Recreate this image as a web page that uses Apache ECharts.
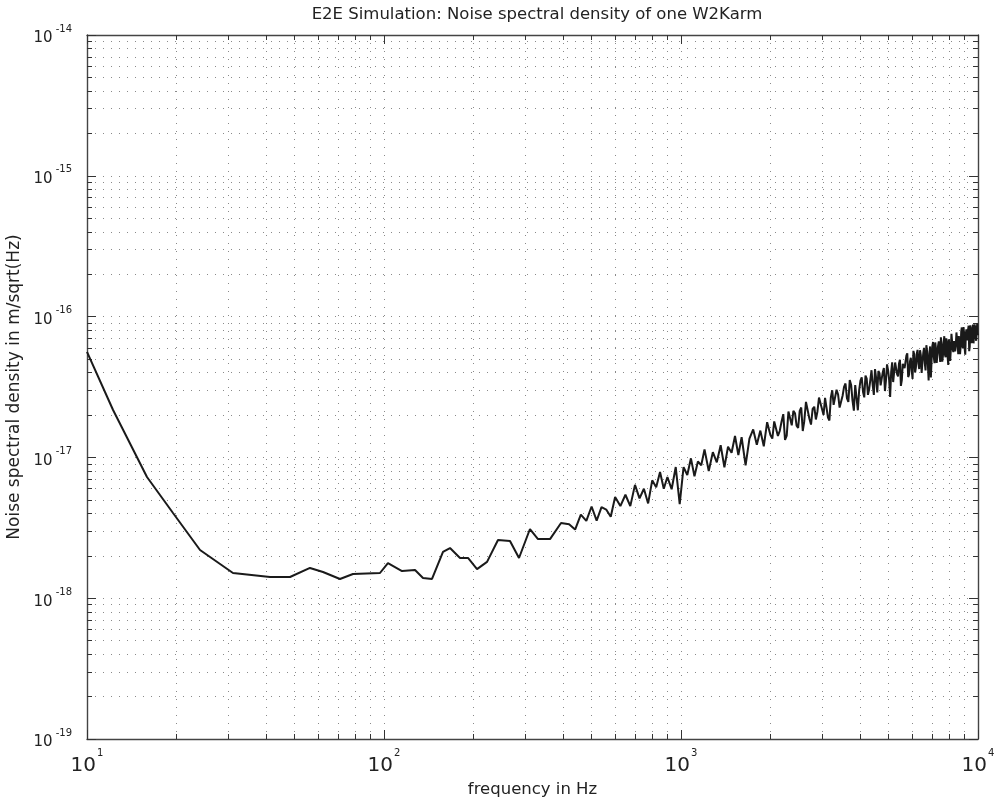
<!DOCTYPE html>
<html>
<head>
<meta charset="utf-8">
<script src="https://cdn.jsdelivr.net/npm/echarts@6/dist/echarts.min.js"></script>
<style>
html,body{margin:0;padding:0;background:#fff;}
#chart{width:995px;height:797px;}
</style>
</head>
<body>
<div id="chart"></div>
<script>
// ---- data ----
const lowFreq = [10.0, 12.24, 15.92, 19.48, 24.02, 31.01, 41.33, 48.26, 56.34, 62.32, 71.09, 78.63, 96.94, 103.1, 115.0, 127.2, 135.3, 145.1, 158.0, 166.8, 180.3, 191.8, 205.7, 222.3, 242.0, 265.6, 284.8, 310.1, 330.0, 362.2, 394.5];
const lowAsd  = [5.61e-17, 2.17e-17, 7.26e-18, 4.03e-18, 2.20e-18, 1.51e-18, 1.414e-18, 1.414e-18, 1.64e-18, 1.535e-18, 1.369e-18, 1.486e-18, 1.51e-18, 1.778e-18, 1.56e-18, 1.586e-18, 1.392e-18, 1.369e-18, 2.13e-18, 2.27e-18, 1.93e-18, 1.93e-18, 1.61e-18, 1.81e-18, 2.59e-18, 2.55e-18, 1.93e-18, 3.10e-18, 2.63e-18, 2.63e-18, 3.42e-18];

const highFreq = [420, 440, 460, 480, 500, 520, 540, 560, 580, 600, 625, 650, 675, 700, 725, 750, 775, 800, 825, 850, 875, 900, 930, 960, 990,
  1020, 1050, 1080, 1110, 1140, 1170, 1200, 1240, 1280, 1320, 1360, 1400, 1440, 1480, 1520, 1560, 1600, 1650, 1700, 1750, 1800, 1850, 1900, 1950, 2000,
  2060, 2120, 2180, 2240, 2300, 2360, 2420, 2480, 2540, 2600, 2670, 2740, 2810, 2880, 2950, 3020, 3090, 3160, 3230, 3300,
  3380, 3460, 3540, 3620, 3700, 3780, 3860, 3940, 4020, 4100, 4180, 4260, 4340, 4420, 4500, 4580, 4660, 4740, 4820, 4900,
  4980, 5060, 5140, 5220, 5300, 5380, 5460, 5540, 5620, 5700, 5780, 5860, 5940, 6020, 6100, 6180, 6260, 6340, 6420, 6500,
  6580, 6660, 6740, 6820, 6900, 6980, 7060, 7140, 7220, 7300, 7380, 7460, 7540, 7620, 7700, 7780, 7860, 7940, 8020, 8100,
  8180, 8260, 8340, 8420, 8500, 8580, 8660, 8740, 8820, 8900, 8980, 9060, 9140, 9220, 9300, 9380, 9460, 9540, 9620, 9700,
  9780, 9860, 9940, 10000];
const highAsd = [3.35e-18, 3.07e-18, 3.92e-18, 3.54e-18, 4.48e-18, 3.56e-18, 4.43e-18, 4.26e-18, 3.79e-18, 5.24e-18, 4.51e-18, 5.43e-18, 4.51e-18, 6.38e-18, 5.12e-18, 5.99e-18, 4.71e-18, 6.87e-18, 6.14e-18, 7.88e-18, 5.99e-18, 7.25e-18, 5.94e-18, 8.54e-18, 4.66e-18,
  8.53e-18, 7.50e-18, 9.85e-18, 7.34e-18, 9.35e-18, 8.80e-18, 1.14e-17, 8.01e-18, 1.09e-17, 9.23e-18, 1.22e-17, 8.51e-18, 1.19e-17, 1.08e-17, 1.42e-17, 1.04e-17, 1.39e-17, 8.78e-18, 1.36e-17, 1.58e-17, 1.23e-17, 1.55e-17, 1.20e-17, 1.78e-17, 1.44e-17,
  1.80e-17, 1.42e-17, 1.79e-17, 1.33e-17, 2.12e-17, 1.69e-17, 2.06e-17, 1.62e-17, 2.26e-17, 1.80e-17, 2.52e-17, 1.71e-17, 2.29e-17, 2.12e-17, 2.67e-17, 2.00e-17, 2.65e-17, 1.83e-17, 3.00e-17, 2.33e-17,
  2.80e-17, 2.24e-17, 3.17e-17, 2.64e-17, 3.54e-17, 2.53e-17, 3.26e-17, 2.16e-17, 3.51e-17, 2.93e-17, 3.81e-17, 2.78e-17, 3.56e-17, 3.26e-17, 4.24e-17, 2.89e-17, 3.97e-17, 3.24e-17, 4.32e-17, 3.54e-17,
  4.16e-17, 2.69e-17, 4.73e-17, 3.53e-17, 4.59e-17, 3.76e-17, 4.94e-17, 3.54e-17, 4.57e-17, 4.25e-17, 5.49e-17, 3.87e-17, 5.10e-17, 3.61e-17, 5.38e-17, 4.37e-17, 5.80e-17, 4.24e-17, 5.32e-17, 4.74e-17,
  6.00e-17, 4.15e-17, 5.69e-17, 3.52e-17, 6.14e-17, 4.99e-17, 6.60e-17, 4.67e-17, 5.93e-17, 5.38e-17, 6.67e-17, 4.76e-17, 6.47e-17, 5.27e-17, 7.26e-17, 5.14e-17, 6.57e-17, 4.53e-17, 7.07e-17, 5.85e-17,
  7.52e-17, 5.59e-17, 6.78e-17, 6.27e-17, 7.62e-17, 5.41e-17, 7.37e-17, 6.11e-17, 8.38e-17, 5.95e-17, 7.44e-17, 5.37e-17, 8.13e-17, 6.73e-17, 8.62e-17, 6.13e-17, 7.91e-17, 6.74e-17, 8.77e-17, 6.27e-17,
  8.40e-17, 6.74e-17, 8.91e-17, 7.37e-17];

// extra samples that make the dense noise band above 2 kHz
const bandFreq = [2030, 2090, 2150, 2210, 2270, 2330, 2390, 2450, 2510, 2570, 2635, 2705, 2775, 2845, 2915, 2985, 3055, 3125, 3195, 3265,
  3340, 3420, 3500, 3580, 3660, 3740, 3820, 3900, 3980, 4060, 4140, 4220, 4300, 4380, 4460, 4540, 4620, 4700, 4780, 4860,
  4940, 5020, 5100, 5180, 5260, 5340, 5420, 5500, 5580, 5660, 5740, 5820, 5900, 5980, 6060, 6140, 6220, 6300, 6380, 6460,
  6540, 6620, 6700, 6780, 6860, 6940, 7020, 7100, 7180, 7260, 7340, 7420, 7500, 7580, 7660, 7740, 7820, 7900, 7980, 8060,
  8140, 8220, 8300, 8380, 8460, 8540, 8620, 8700, 8780, 8860, 8940, 9020, 9100, 9180, 9260, 9340, 9420, 9500, 9580, 9660,
  9740, 9820, 9900, 9970];
const bandAsd = [1.36e-17, 1.84e-17, 1.54e-17, 2.03e-17, 1.43e-17, 1.90e-17, 2.14e-17, 1.68e-17, 2.14e-17, 1.54e-17, 2.48e-17, 1.89e-17, 2.21e-17, 1.86e-17, 2.66e-17, 2.20e-17, 2.65e-17, 1.92e-17, 2.67e-17, 2.36e-17,
  3.02e-17, 2.26e-17, 2.74e-17, 3.35e-17, 2.48e-17, 3.27e-17, 2.15e-17, 3.20e-17, 3.00e-17, 3.70e-17, 2.67e-17, 3.62e-17, 3.04e-17, 4.16e-17, 2.78e-17, 3.66e-17, 4.11e-17, 3.25e-17, 4.03e-17, 2.96e-17,
  4.58e-17, 3.59e-17, 4.03e-17, 3.43e-17, 4.72e-17, 3.90e-17, 4.65e-17, 3.22e-17, 4.62e-17, 4.30e-17, 5.28e-17, 3.72e-17, 4.80e-17, 4.18e-17, 5.71e-17, 4.01e-17, 5.44e-17, 4.64e-17, 5.77e-17, 3.98e-17,
  5.47e-17, 4.68e-17, 6.26e-17, 4.53e-17, 5.47e-17, 3.69e-17, 6.19e-17, 5.13e-17, 6.55e-17, 4.69e-17, 6.25e-17, 5.53e-17, 7.13e-17, 4.78e-17, 6.29e-17, 5.35e-17, 7.01e-17, 5.22e-17, 6.91e-17, 4.84e-17,
  7.55e-17, 5.87e-17, 6.69e-17, 5.67e-17, 7.72e-17, 6.23e-17, 7.27e-17, 5.42e-17, 7.81e-17, 6.20e-17, 8.43e-17, 5.90e-17, 7.54e-17, 6.77e-17, 8.09e-17, 5.68e-17, 8.66e-17, 6.50e-17, 8.23e-17, 6.46e-17,
  8.81e-17, 7.09e-17, 8.05e-17, 7.58e-17];

const xMajorTicks = [10, 100, 1000, 10000];
const xMinorTicks = [20, 30, 40, 50, 60, 70, 80, 90, 200, 300, 400, 500, 600, 700, 800, 900, 2000, 3000, 4000, 5000, 6000, 7000, 8000, 9000];
const yMajorTicks = [1e-19, 1e-18, 1e-17, 1e-16, 1e-15, 1e-14];
const yMinorTicks = [2e-19, 3e-19, 4e-19, 5e-19, 6e-19, 7e-19, 8e-19, 9e-19,
  2e-18, 3e-18, 4e-18, 5e-18, 6e-18, 7e-18, 8e-18, 9e-18,
  2e-17, 3e-17, 4e-17, 5e-17, 6e-17, 7e-17, 8e-17, 9e-17,
  2e-16, 3e-16, 4e-16, 5e-16, 6e-16, 7e-16, 8e-16, 9e-16,
  2e-15, 3e-15, 4e-15, 5e-15, 6e-15, 7e-15, 8e-15, 9e-15];

const titleText = 'E2E Simulation: Noise spectral density of one W2Karm';
const xName = 'frequency in Hz';
const yName = 'Noise spectral density in m/sqrt(Hz)';

// ---- chart ----
const chart = echarts.init(document.getElementById('chart'), null, {renderer: 'canvas'});
const seriesData = [];
lowFreq.forEach((f, i) => seriesData.push([f, lowAsd[i]]));
highFreq.forEach((f, i) => seriesData.push([f, highAsd[i]]));
bandFreq.forEach((f, i) => seriesData.push([f, bandAsd[i]]));
seriesData.sort((a, b) => a[0] - b[0]);

const FONT = 'DejaVu Sans, Liberation Sans, Arial, sans-serif';
const richX = {
  b: {fontSize: 20, fontFamily: FONT, color: '#222', lineHeight: 28, verticalAlign: 'bottom'},
  s: {fontSize: 10, fontFamily: FONT, color: '#222', lineHeight: 18, verticalAlign: 'top', padding: [0, 0, 0, 1]}
};
const richY = {
  b: {fontSize: 15, fontFamily: FONT, color: '#222', lineHeight: 22, verticalAlign: 'bottom'},
  s: {fontSize: 10, fontFamily: FONT, color: '#222', lineHeight: 4, verticalAlign: 'top', padding: [0, 0, 0, 3]}
};
const expLabel = v => '{b|10}{s|' + Math.round(Math.log10(v)) + '}';
const allX = xMajorTicks.concat(xMinorTicks).sort((a, b) => a - b);
const allY = yMajorTicks.concat(yMinorTicks).sort((a, b) => a - b);
const gridLine = {show: true, lineStyle: {color: '#8a8a8a', width: 1, type: [1, 7]}};

function xAx(pos, ticks, len, labels, split, line) {
  return {
    type: 'log', logBase: 10, min: 10, max: 10000, position: pos, gridIndex: 0,
    axisLine: {show: line, onZero: false, lineStyle: {color: '#444', width: 1.4}},
    axisTick: {show: true, inside: true, length: len, customValues: ticks, lineStyle: {color: '#333', width: 1}},
    axisLabel: labels ? {show: true, customValues: xMajorTicks, formatter: expLabel, rich: richX, margin: 9} : {show: false},
    splitLine: split ? Object.assign({}, gridLine) : {show: false},
    minorTick: {show: false}, minorSplitLine: {show: false}
  };
}
function yAx(pos, ticks, len, labels, split, line) {
  return {
    type: 'log', logBase: 10, min: 1e-19, max: 1e-14, position: pos, gridIndex: 0,
    axisLine: {show: line, onZero: false, lineStyle: {color: '#444', width: 1.4}},
    axisTick: {show: true, inside: true, length: len, customValues: ticks, lineStyle: {color: '#333', width: 1}},
    axisLabel: labels ? {show: true, customValues: yMajorTicks, formatter: expLabel, rich: richY, margin: 15} : {show: false},
    splitLine: split ? Object.assign({}, gridLine) : {show: false},
    minorTick: {show: false}, minorSplitLine: {show: false}
  };
}

const xAxes = [
  Object.assign(xAx('bottom', xMajorTicks, 9, true, false, true), {name: xName, nameLocation: 'middle', nameGap: 39, nameTextStyle: {fontSize: 16.5, fontFamily: FONT, color: '#222'}}),
  xAx('bottom', xMinorTicks, 5, false, false, false),
  xAx('top', xMajorTicks, 9, false, false, true),
  xAx('top', xMinorTicks, 5, false, false, false),
  xAx('bottom', allX, 0, false, true, false)
];
const yAxes = [
  Object.assign(yAx('left', yMajorTicks, 9, true, false, true), {name: yName, nameLocation: 'middle', nameGap: 54, nameRotate: 90, nameTextStyle: {fontSize: 17, fontFamily: FONT, color: '#222'}}),
  yAx('left', yMinorTicks, 5, false, false, false),
  yAx('right', yMajorTicks, 9, false, false, true),
  yAx('right', yMinorTicks, 5, false, false, false),
  yAx('left', allY, 0, false, true, false)
];

chart.setOption({
  animation: false,
  backgroundColor: '#fff',
  title: {
    text: titleText, left: 532, top: 1, textAlign: 'center',
    textStyle: {fontSize: 16.5, fontWeight: 'normal', fontFamily: FONT, color: '#222'}
  },
  grid: {left: 87, right: 17, top: 35, bottom: 58, containLabel: false, outerBoundsMode: 'none'},
  xAxis: xAxes,
  yAxis: yAxes,
  series: [{
    type: 'line', xAxisIndex: 0, yAxisIndex: 0,
    data: seriesData, showSymbol: false, symbol: 'none',
    lineStyle: {color: '#1a1a1a', width: 2},
    clip: true
  }]
});
</script>
</body>
</html>
